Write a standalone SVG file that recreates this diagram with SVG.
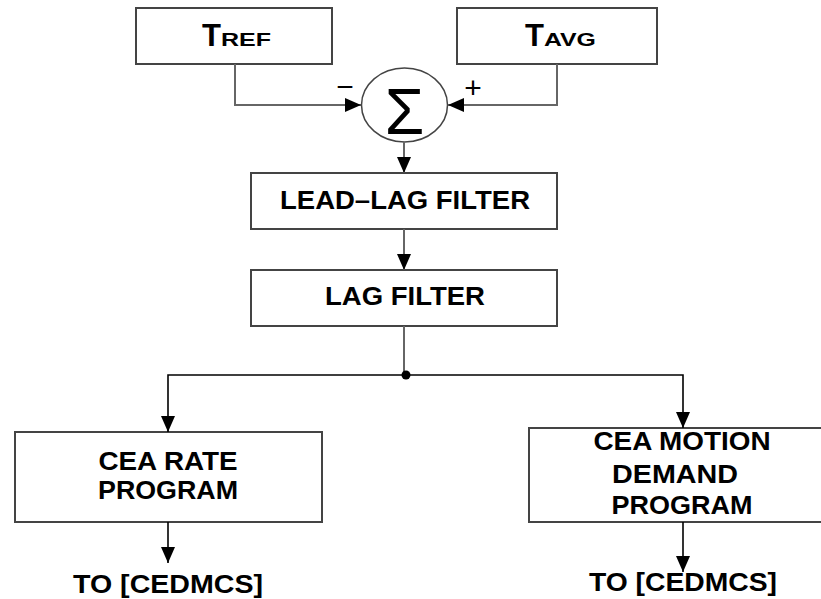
<svg xmlns="http://www.w3.org/2000/svg" width="821" height="599" viewBox="0 0 821 599">
<style>
.box{fill:#fff;stroke:#444;stroke-width:2}
.t{font-family:"Liberation Sans",Arial,sans-serif;font-weight:bold;fill:#000;text-anchor:middle;font-size:26px}
.ln{fill:none;stroke:#666;stroke-width:2}
.lnb{fill:none;stroke:#000;stroke-width:1.6}
</style>
<defs>
<marker id="ah" markerUnits="userSpaceOnUse" markerWidth="16" markerHeight="14" refX="16" refY="7" orient="auto">
<path d="M0,0 L16,7 L0,14 z" fill="#000"/>
</marker>
</defs>
<rect width="821" height="599" fill="#fff"/>
<g id="tref">
<rect class="box" x="136" y="8" width="196" height="56"/>
<text class="t" x="202" y="46" style="text-anchor:start;font-size:31px">T<tspan style="font-size:19px" textLength="50" lengthAdjust="spacingAndGlyphs">REF</tspan></text>
</g>
<g id="tavg">
<rect class="box" x="457" y="8" width="200" height="56"/>
<text class="t" x="525" y="46" style="text-anchor:start;font-size:31px">T<tspan style="font-size:19px" textLength="52" lengthAdjust="spacingAndGlyphs">AVG</tspan></text>
</g>
<g id="sum">
<ellipse cx="404.5" cy="105" rx="43" ry="37" fill="#fff" stroke="#444" stroke-width="1.5"/>
<text x="404.5" y="134" style="font-family:'Liberation Sans',Arial,sans-serif;font-size:64px;text-anchor:middle;fill:#000;stroke:#fff;stroke-width:4;paint-order:stroke">Σ</text>
<text x="345" y="97" style="font-family:'Liberation Sans',Arial,sans-serif;font-size:30px;text-anchor:middle;fill:#000">−</text>
<text x="473" y="98" style="font-family:'Liberation Sans',Arial,sans-serif;font-size:30px;text-anchor:middle;fill:#000">+</text>
</g>
<g id="leadlag">
<rect class="box" x="251" y="173" width="306" height="56"/>
<text class="t" x="405" y="209" textLength="250" lengthAdjust="spacingAndGlyphs">LEAD–LAG FILTER</text>
</g>
<g id="lag">
<rect class="box" x="251" y="270" width="306" height="56"/>
<text class="t" x="405" y="305" textLength="160" lengthAdjust="spacingAndGlyphs">LAG FILTER</text>
</g>
<g id="rate">
<rect class="box" x="15" y="432" width="307" height="90"/>
<text class="t" x="168" y="470" textLength="139" lengthAdjust="spacingAndGlyphs">CEA RATE</text>
<text class="t" x="168" y="499" textLength="140" lengthAdjust="spacingAndGlyphs">PROGRAM</text>
</g>
<g id="motion">
<rect class="box" x="529" y="428" width="300" height="94"/>
<text class="t" x="682" y="450" textLength="177" lengthAdjust="spacingAndGlyphs">CEA MOTION</text>
<text class="t" x="675" y="483" textLength="126" lengthAdjust="spacingAndGlyphs">DEMAND</text>
<text class="t" x="682" y="514" textLength="141" lengthAdjust="spacingAndGlyphs">PROGRAM</text>
</g>
<g id="out1">
<text class="t" x="168" y="593" textLength="190" lengthAdjust="spacingAndGlyphs">TO [CEDMCS]</text>
</g>
<g id="out2">
<text class="t" x="683" y="591" textLength="188" lengthAdjust="spacingAndGlyphs">TO [CEDMCS]</text>
</g>
<g id="connectors">
<polyline class="ln" points="235,64 235,105 361,105" marker-end="url(#ah)"/>
<polyline class="ln" points="557,64 557,105 448,105" marker-end="url(#ah)"/>
<line class="ln" x1="404" y1="142" x2="404" y2="173" marker-end="url(#ah)"/>
<line class="ln" x1="404" y1="229" x2="404" y2="270" marker-end="url(#ah)"/>
<line class="ln" x1="404" y1="326" x2="404" y2="375"/>
<polyline class="lnb" points="406,375 168,375 168,432" marker-end="url(#ah)"/>
<polyline class="lnb" points="406,375 683,375 683,428" marker-end="url(#ah)"/>
<circle cx="406" cy="375" r="4.5" fill="#000"/>
<line class="lnb" x1="168" y1="522" x2="168" y2="563" marker-end="url(#ah)"/>
<line class="lnb" x1="683" y1="522" x2="683" y2="572" marker-end="url(#ah)"/>
</g>
</svg>
